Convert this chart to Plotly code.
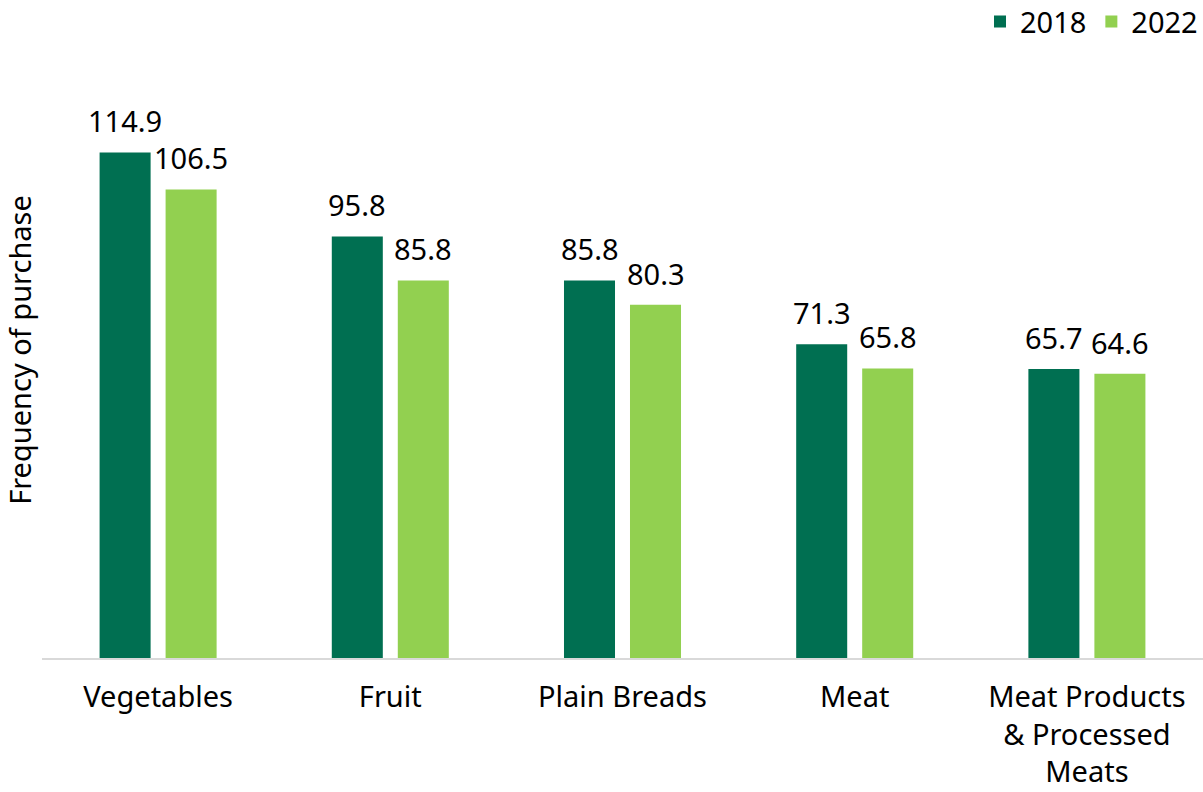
import plotly.graph_objects as go

categories = ["Vegetables", "Fruit", "Plain Breads", "Meat", "Meat Products<br>& Processed<br>Meats"]
values_2018 = [114.9, 95.8, 85.8, 71.3, 65.7]
values_2022 = [106.5, 85.8, 80.3, 65.8, 64.6]

series = [
    ("2018", values_2018, "#006F51", -33),
    ("2022", values_2022, "#92D050", 33),
]

FONT = "Noto Sans"
FS = 29
fig = go.Figure()
annotations = []
for name, vals, color, shift in series:
    fig.add_trace(go.Bar(name=name, x=categories, y=vals, marker_color=color,
                         marker_line_width=0))
    for c, v in zip(categories, vals):
        annotations.append(dict(x=c, y=v, text=f"{v:.1f}", showarrow=False,
                                xshift=shift, yanchor="bottom", yshift=10,
                                font=dict(size=FS, color="#000000", family=FONT)))

fig.update_layout(
    width=1203, height=792,
    margin=dict(l=42, r=0, t=42, b=134, autoexpand=False),
    paper_bgcolor="white", plot_bgcolor="white",
    barmode="group", bargap=0.4315, bargroupgap=0.227,
    font=dict(family=FONT, size=FS, color="#000000"),
    legend=dict(orientation="h", x=1.0, xanchor="right",
                y=1.033, yanchor="middle",
                font=dict(size=FS), itemwidth=30, traceorder="normal"),
    annotations=annotations,
    xaxis=dict(showline=True, linecolor="#d9d9d9", linewidth=2, ticks="",
               tickfont=dict(size=FS), showgrid=False, ticklabelstandoff=12),
    yaxis=dict(range=[0, 140], showticklabels=False, showgrid=False,
               zeroline=False, showline=False,
               title=dict(text="Frequency of purchase", font=dict(size=FS), standoff=0)),
)

fig.write_html("out.html")
